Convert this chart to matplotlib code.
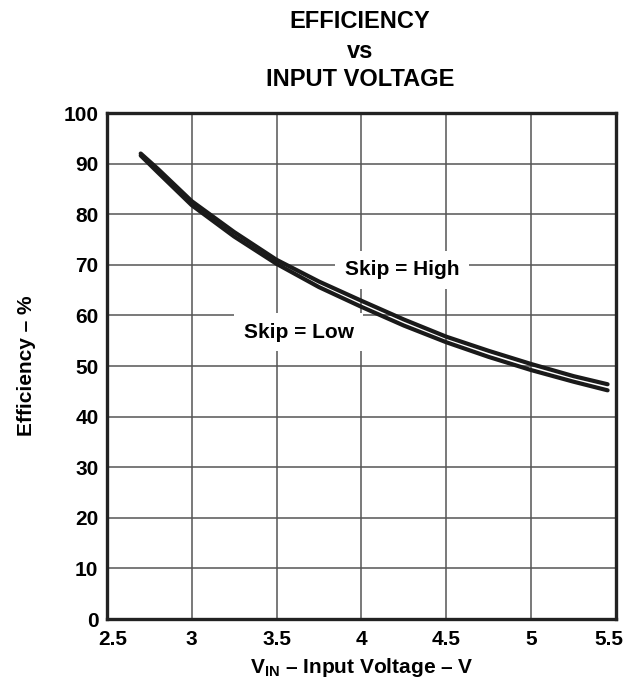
import matplotlib
matplotlib.use('Agg')
import matplotlib.pyplot as plt
import matplotlib.transforms as mtransforms

plt.rcParams['font.family'] = ['Liberation Sans', 'DejaVu Sans']
plt.rcParams['font.weight'] = 'bold'
plt.rcParams['axes.labelweight'] = 'bold'
plt.rcParams['mathtext.fontset'] = 'custom'
plt.rcParams['mathtext.rm'] = 'Liberation Sans:bold'
plt.rcParams['mathtext.bf'] = 'Liberation Sans:bold'

# input voltage (V) and efficiency (%)
vin = [2.7, 2.8, 3.0, 3.25, 3.5, 3.75, 4.0, 4.25, 4.5, 4.75, 5.0, 5.25, 5.45]
eff_high = [92.0, 89.0, 82.6, 76.5, 71.0, 66.7, 62.9, 59.2, 55.8, 53.0, 50.4, 48.0, 46.4]
eff_low = [91.6, 88.3, 81.8, 75.6, 70.2, 65.6, 61.7, 58.0, 54.7, 51.8, 49.2, 46.9, 45.2]

xticks = [2.5, 3, 3.5, 4, 4.5, 5, 5.5]
xlabels = ['2.5', '3', '3.5', '4', '4.5', '5', '5.5']
yticks = list(range(0, 101, 10))

fig = plt.figure(figsize=(6.28, 6.81), dpi=100)
ax = fig.add_axes([0.170, 0.091, 0.811, 0.743])

ax.plot(vin, eff_high, color='#1a1a1a', lw=3.0, solid_capstyle='round', zorder=3)
ax.plot(vin, eff_low, color='#1a1a1a', lw=3.0, solid_capstyle='round', zorder=3)

ax.set_xlim(2.5, 5.5)
ax.set_ylim(0, 100)
ax.set_xticks(xticks)
ax.set_xticklabels(xlabels)
ax.set_yticks(yticks)
ax.grid(True, color='#555555', lw=1.1)
ax.tick_params(length=0, labelsize=15)
ax.tick_params(axis='x', pad=8)
ax.tick_params(axis='y', pad=6)
for s in ax.spines.values():
    s.set_linewidth(2.4)
    s.set_color('#222222')

# end labels sit a little inside the frame
labs = ax.get_xticklabels()
labs[0].set_transform(labs[0].get_transform() + mtransforms.ScaledTranslation(6/100, 0, fig.dpi_scale_trans))
labs[-1].set_transform(labs[-1].get_transform() + mtransforms.ScaledTranslation(-7/100, 0, fig.dpi_scale_trans))

ax.text(4.24, 69, 'Skip = High', ha='center', va='center', fontsize=15,
        fontweight='bold', bbox=dict(fc='white', ec='none', pad=7), zorder=2)
ax.text(3.63, 56.7, 'Skip = Low', ha='center', va='center', fontsize=15,
        fontweight='bold', bbox=dict(fc='white', ec='none', pad=7), zorder=2)

ax.set_xlabel(r'$\mathregular{V_{IN}}$ – Input Voltage – V', fontsize=15, labelpad=5)
ax.set_ylabel('Efficiency – %', fontsize=15, labelpad=20)

fig.text(0.573, 0.969, 'EFFICIENCY', ha='center', va='center', fontsize=17, fontweight='bold')
fig.text(0.573, 0.924, 'vs', ha='center', va='center', fontsize=17, fontweight='bold')
fig.text(0.573, 0.883, 'INPUT VOLTAGE', ha='center', va='center', fontsize=17, fontweight='bold')

fig.savefig('out.png', dpi=100)
